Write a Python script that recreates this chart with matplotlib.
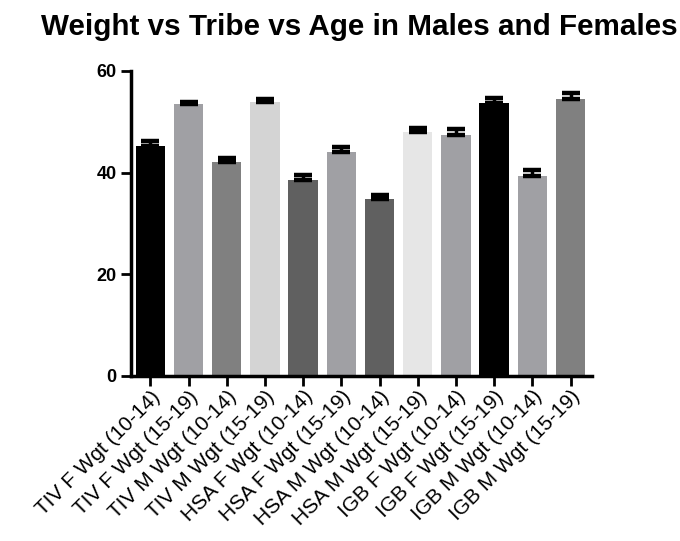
import numpy as np
import matplotlib.pyplot as plt

plt.rcParams['font.family'] = ['Liberation Sans', 'DejaVu Sans']

#data
labels = ["TIV F Wgt (10-14)", "TIV F Wgt (15-19)", "TIV M Wgt (10-14)", "TIV M Wgt (15-19)",
          "HSA F Wgt (10-14)", "HSA F Wgt (15-19)", "HSA M Wgt (10-14)", "HSA M Wgt (15-19)",
          "IGB F Wgt (10-14)", "IGB F Wgt (15-19)", "IGB M Wgt (10-14)", "IGB M Wgt (15-19)"]
means = [45.2, 53.4, 42.1, 53.9, 38.5, 44.1, 34.9, 47.9, 47.3, 53.6, 39.4, 54.4]
sem = [1.0, 0.5, 0.7, 0.5, 1.1, 0.9, 0.7, 0.8, 1.2, 1.1, 1.2, 1.3]
colors = ["#000000", "#a0a0a4", "#808080", "#d4d4d4", "#606060", "#a0a0a4",
          "#606060", "#e6e6e6", "#a0a0a4", "#000000", "#a0a0a4", "#808080"]

fig = plt.figure(figsize=(6.8, 5.41), dpi=100)
ax = fig.add_axes([0.193, 0.305, 0.678, 0.564])

x = np.arange(len(labels))
ax.bar(x, means, width=0.77, color=colors, zorder=2)
ax.errorbar(x, means, yerr=[np.zeros(len(sem)), sem], fmt='none', ecolor='black',
            elinewidth=2.5, capsize=6.2, capthick=3.2, zorder=3)

ax.set_xlim(-0.5, 11.57)
ax.set_ylim(0, 60)
ax.set_yticks([0, 20, 40, 60])
ax.set_xticks(x)
ax.set_xticklabels(labels, rotation=45, ha='right', rotation_mode='anchor', fontsize=15)
for t in ax.get_yticklabels():
	t.set_fontweight('bold')
	t.set_fontsize(13)

for s in ['top', 'right']:
	ax.spines[s].set_visible(False)
for s in ['left', 'bottom']:
	ax.spines[s].set_linewidth(2.5)
ax.tick_params(direction='out', length=7, width=2)
ax.tick_params(axis='x', pad=1)

fig.text(0.528, 0.935, "Weight vs Tribe vs Age in Males and Females", ha='center', va='baseline',
         fontsize=21.3, fontweight='bold')

plt.savefig("out.png", dpi=100)
